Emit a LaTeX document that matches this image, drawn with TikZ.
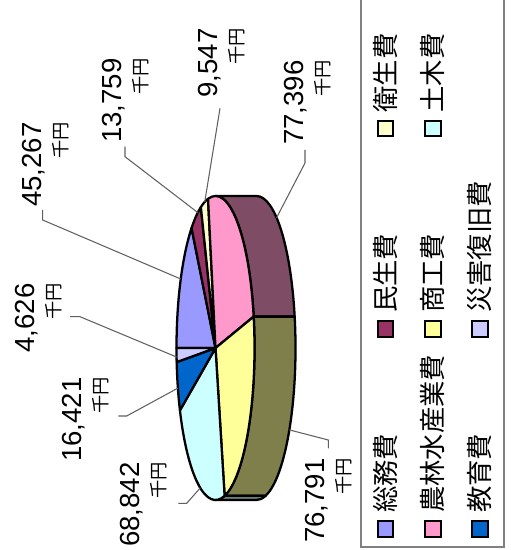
\documentclass[tikz,border=0pt]{standalone}
\usepackage{fontspec}
\setmainfont{Liberation Sans}
\newfontfamily\jp{Noto Sans CJK JP}
\usepackage{tikz}
\usetikzlibrary{positioning}
\definecolor{soumu}{HTML}{9999FF}
\definecolor{minsei}{HTML}{993366}
\definecolor{eisei}{HTML}{FFFFCC}
\definecolor{norin}{HTML}{FF99CC}
\definecolor{shoko}{HTML}{FFFF99}
\definecolor{doboku}{HTML}{CCFFFF}
\definecolor{kyoiku}{HTML}{0066CC}
\definecolor{saigai}{HTML}{CCCCFF}
\definecolor{norinSide}{HTML}{7F4C66}
\definecolor{shokoSide}{HTML}{7F7F4C}
\definecolor{dobokuSide}{HTML}{667F7F}
\definecolor{frame}{HTML}{808080}
\definecolor{leadgray}{HTML}{606060}
\newcommand{\senyen}{{\jp\fontsize{10.4}{10}\selectfont 千円}}
\tikzset{
  face/.style={draw=black, line width=1.3pt, line join=round},
  lead/.style={draw=leadgray, line width=0.6pt},
  val/.style={rotate=90, anchor=north east, inner sep=0pt, align=right,
    font=\fontsize{15.7}{15}\selectfont},
  keybox/.style={draw=black, line width=1.1pt, minimum size=0.31cm, inner sep=0pt},
  keytext/.style={rotate=90, inner sep=0pt, font=\jp\fontsize{15}{15}\selectfont},
  legendFrame/.style={draw=frame, line width=1.1pt}
}

\begin{document}
\begin{tikzpicture}[x=0.02cm, y=-0.02cm]
  \useasboundingbox (0,0) rectangle (515,550);

  \begin{scope}[shift={(215.5,348)}, x radius=39, y radius=152]
    % side
    \filldraw[face, fill=norinSide] (270:39 and 152) arc[start angle=270, end angle=348.08]
      -- ++(41,0) arc[start angle=348.08, end angle=270] -- cycle;
    \filldraw[face, fill=shokoSide] (348.08:39 and 152) arc[start angle=348.08, end angle=436.5]
      -- ++(41,0) arc[start angle=436.5, end angle=348.08] -- cycle;
    \filldraw[face, fill=dobokuSide] (436.5:39 and 152) arc[start angle=436.5, end angle=450]
      -- ++(41,0) arc[start angle=450, end angle=436.5] -- cycle;
    % top
    \filldraw[face, fill=soumu] (0,0) -- (180:39 and 152) arc[start angle=180, end angle=232.12] -- cycle;
    \filldraw[face, fill=minsei] (0,0) -- (232.12:39 and 152) arc[start angle=232.12, end angle=247.97] -- cycle;
    \filldraw[face, fill=eisei] (0,0) -- (247.97:39 and 152) arc[start angle=247.97, end angle=258.96] -- cycle;
    \filldraw[face, fill=norin] (0,0) -- (258.96:39 and 152) arc[start angle=258.96, end angle=348.08] -- cycle;
    \filldraw[face, fill=shoko] (0,0) -- (348.08:39 and 152) arc[start angle=348.08, end angle=436.5] -- cycle;
    \filldraw[face, fill=doboku] (0,0) -- (436.5:39 and 152) arc[start angle=436.5, end angle=515.77] -- cycle;
    \filldraw[face, fill=kyoiku] (0,0) -- (515.77:39 and 152) arc[start angle=515.77, end angle=534.67] -- cycle;
    \filldraw[face, fill=saigai] (0,0) -- (534.67:39 and 152) arc[start angle=534.67, end angle=540] -- cycle;

    \coordinate (eSoumu) at (207:39 and 152);
    \coordinate (eMinsei) at (243:39 and 152);
    \coordinate (eEisei) at (254:39 and 152);
    \coordinate (eNorin) at ([shift={(41,0)}]301:39 and 152);
    \coordinate (eShoko) at ([shift={(41,0)}]32.6:39 and 152);
    \coordinate (eDoboku) at (113:39 and 152);
    \coordinate (eKyoiku) at (164.7:39 and 152);
    \coordinate (eSaigai) at (176.6:39 and 152);
  \end{scope}

  \node[val] (vSoumu) at (22,122) {45,267\\\senyen};
  \node[val] (vMinsei) at (102,58) {13,759\\\senyen};
  \node[val] (vEisei) at (198,28) {9,547\\\senyen};
  \node[val] (vNorin) at (284,60) {77,396\\\senyen};
  \node[val] (vShoko) at (305,458) {76,791\\\senyen};
  \node[val] (vDoboku) at (120,462) {68,842\\\senyen};
  \node[val] (vKyoiku) at (62,377) {16,421\\\senyen};
  \node[val] (vSaigai) at (15,283) {4,626\\\senyen};

  \coordinate (kSoumu) at (42.7,210);
  \coordinate (kMinsei) at (125,146.7);
  \coordinate (kEisei) at (220,108.3);
  \coordinate (kNorin) at (305,150);
  \coordinate (kShoko) at (328.3,448.3);
  \coordinate (kDoboku) at (178.3,503.3);
  \coordinate (kKyoiku) at (118.3,416);
  \coordinate (kSaigai) at (70,316.7);

  \draw[lead] (kSoumu) -- ++(0,10) -- (eSoumu);
  \draw[lead] (kMinsei) -- ++(0,10) -- (eMinsei);
  \draw[lead] (kEisei) -- (eEisei);
  \draw[lead] (kNorin) -- ++(0,13) -- (eNorin);
  \draw[lead] (kShoko) -- ++(0,-8.3) -- (eShoko);
  \draw[lead] (kDoboku) -- ++(8.4,0) -- (eDoboku);
  \draw[lead] (kKyoiku) -- ++(8.4,0) -- (eKyoiku);
  \draw[lead] (kSaigai) -- ++(10,0) -- (eSaigai);

  \draw[legendFrame] (361,-5) -- (361,547) -- (504.3,547) -- (504.3,-5);

  \node[keybox, fill=soumu] (bSoumu) at (385.5,529) {};
  \node[keytext, above=0.14cm of bSoumu, anchor=west] (tSoumu) {総務費};
  \node[keybox, fill=minsei] (bMinsei) at (385.5,329) {};
  \node[keytext, above=0.14cm of bMinsei, anchor=west] (tMinsei) {民生費};
  \node[keybox, fill=eisei] (bEisei) at (385.5,128.7) {};
  \node[keytext, above=0.14cm of bEisei, anchor=west] (tEisei) {衛生費};
  \node[keybox, fill=norin] (bNorin) at (433,529) {};
  \node[keytext, above=0.14cm of bNorin, anchor=west] (tNorin) {農林水産業費};
  \node[keybox, fill=shoko] (bShoko) at (433,329) {};
  \node[keytext, above=0.14cm of bShoko, anchor=west] (tShoko) {商工費};
  \node[keybox, fill=doboku] (bDoboku) at (433,128.7) {};
  \node[keytext, above=0.14cm of bDoboku, anchor=west] (tDoboku) {土木費};
  \node[keybox, fill=kyoiku] (bKyoiku) at (480,529) {};
  \node[keytext, above=0.14cm of bKyoiku, anchor=west] (tKyoiku) {教育費};
  \node[keybox, fill=saigai] (bSaigai) at (480,329) {};
  \node[keytext, above=0.14cm of bSaigai, anchor=west] (tSaigai) {災害復旧費};
\end{tikzpicture}
\end{document}
